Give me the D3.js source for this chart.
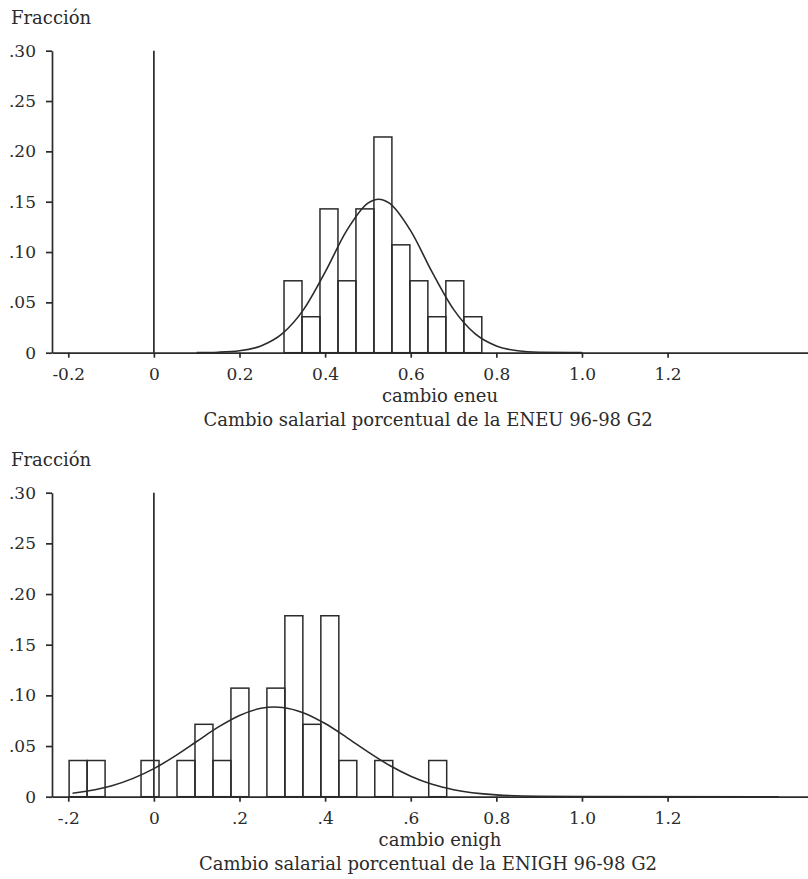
<!DOCTYPE html>
<html>
<head>
<meta charset="utf-8">
<script src="https://cdn.jsdelivr.net/npm/d3@7"></script>
<style>
  body { margin: 0; background: #fff; }
  text { font-family: "DejaVu Serif", serif; fill: #2b2b2b; }
</style>
</head>
<body>
<div id="graphic"></div>
<script>
// Shared axis ticks
const xTicks = [-0.2, 0, 0.2, 0.4, 0.6, 0.8, 1.0, 1.2];
const xLabelsEneu = ["-0.2", "0", "0.2", "0.4", "0.6", "0.8", "1.0", "1.2"];
const xLabelsEnigh = ["-.2", "0", ".2", ".4", ".6", "0.8", "1.0", "1.2"];
const yTicks = [0, 0.05, 0.10, 0.15, 0.20, 0.25, 0.30];
const yLabels = ["0", ".05", ".10", ".15", ".20", ".25", ".30"];

// ENEU histogram (28 obs)
const eneuTotal = 28;
const eneuBinWidth = 0.042;
const eneuBins = [0.304, 0.346, 0.388, 0.430, 0.472, 0.514, 0.556, 0.598, 0.640, 0.682, 0.724];
const eneuCounts = [2, 1, 4, 2, 4, 6, 3, 2, 1, 2, 1];
// normal overlay
const eneuCurveX = [0.1, 0.15, 0.2, 0.25, 0.3, 0.35, 0.4, 0.45, 0.5, 0.525, 0.55, 0.6, 0.65, 0.7, 0.75, 0.8, 0.85, 0.9, 1.0];
const eneuCurveY = [0.0001, 0.0005, 0.0019, 0.0067, 0.0189, 0.043, 0.080, 0.121, 0.1486, 0.1525, 0.1486, 0.121, 0.080, 0.043, 0.0189, 0.0067, 0.0019, 0.0005, 0.0001];

// ENIGH histogram (28 obs)
const enighTotal = 28;
const enighBinWidth = 0.042;
const enighBins = [-0.198, -0.156, -0.114, -0.072, -0.030, 0.012, 0.054, 0.096, 0.138, 0.180, 0.222,
                   0.264, 0.306, 0.348, 0.390, 0.432, 0.474, 0.516, 0.558, 0.600, 0.642];
const enighCounts = [1, 1, 0, 0, 1, 0, 1, 2, 1, 3, 0, 3, 5, 2, 5, 1, 0, 1, 0, 0, 1];
const enighCurveX = [-0.19, -0.1, 0, 0.05, 0.1, 0.15, 0.2, 0.25, 0.282, 0.3, 0.35, 0.4, 0.45, 0.5, 0.55, 0.6, 0.65, 0.7, 0.8, 0.9, 1.0, 1.46];
const enighCurveY = [0.0034, 0.0105, 0.0277, 0.0403, 0.0545, 0.0686, 0.0802, 0.0872, 0.0885, 0.0881, 0.0827, 0.0722, 0.0586, 0.0442, 0.031, 0.0202, 0.0122, 0.0069, 0.0018, 0.0003, 0.0001, 0];

const W = 808, H = 879;
const ink = "#2b2b2b";

const svg = d3.select("#graphic")
  .append("svg")
  .attr("width", W)
  .attr("height", H);

function drawPanel(p) {
  const g = svg.append("g");

  const x = d3.scaleLinear()
    .domain([-0.238, 1.528])
    .range([52, 808]);

  const y = d3.scaleLinear()
    .domain([0, 0.30])
    .range([p.y0, p.y30]);

  // "Fracción" label
  g.append("text")
    .attr("x", 11)
    .attr("y", p.y30 - 27)
    .attr("font-size", 18)
    .text("Fracción");

  // Y axis
  const yAxis = g.append("g")
    .attr("transform", `translate(${x.range()[0]},0)`)
    .call(d3.axisLeft(y)
      .tickValues(yTicks)
      .tickFormat((d, i) => yLabels[i])
      .tickSize(6)
      .tickPadding(10)
      .tickSizeOuter(0));

  // X axis
  const xAxis = g.append("g")
    .attr("transform", `translate(0,${p.y0})`)
    .call(d3.axisBottom(x)
      .tickValues(xTicks)
      .tickFormat((d, i) => p.xLabels[i])
      .tickSize(5)
      .tickPadding(10)
      .tickSizeOuter(0));

  [yAxis, xAxis].forEach(a => {
    a.selectAll("path, line").attr("stroke", ink).attr("stroke-width", 1.7);
    a.selectAll("text")
      .attr("font-size", 17)
      .attr("fill", ink)
      .style("font-family", '"DejaVu Serif", serif');
  });

  // Reference line at zero
  g.append("line")
    .attr("x1", x(0)).attr("x2", x(0))
    .attr("y1", y(0)).attr("y2", y(0.30))
    .attr("stroke", ink)
    .attr("stroke-width", 1.7);

  // Histogram bars
  const bins = p.bins.map((b, i) => ({ x0: b, x1: b + p.binWidth, frac: p.counts[i] / p.total }))
    .filter(d => d.frac > 0);

  g.selectAll(".bar")
    .data(bins)
    .join("rect")
    .attr("class", "bar")
    .attr("x", d => x(d.x0))
    .attr("y", d => y(d.frac))
    .attr("width", d => x(d.x1) - x(d.x0))
    .attr("height", d => y(0) - y(d.frac))
    .attr("fill", "none")
    .attr("stroke", ink)
    .attr("stroke-width", 1.5);

  // Normal curve
  const pts = p.curveX.map((v, i) => [v, p.curveY[i]]);
  g.append("path")
    .datum(pts)
    .attr("fill", "none")
    .attr("stroke", ink)
    .attr("stroke-width", 1.6)
    .attr("d", d3.line()
      .x(d => x(d[0]))
      .y(d => y(d[1]))
      .curve(d3.curveMonotoneX));

  // Axis title and caption
  g.append("text")
    .attr("x", 440)
    .attr("y", p.y0 + 49)
    .attr("text-anchor", "middle")
    .attr("font-size", 18)
    .text(p.xTitle);

  g.append("text")
    .attr("x", 428)
    .attr("y", p.y0 + 73)
    .attr("text-anchor", "middle")
    .attr("font-size", 18)
    .text(p.caption);
}

drawPanel({
  y0: 352.7, y30: 50.7,
  xLabels: xLabelsEneu,
  bins: eneuBins, counts: eneuCounts, total: eneuTotal, binWidth: eneuBinWidth,
  curveX: eneuCurveX, curveY: eneuCurveY,
  xTitle: "cambio eneu",
  caption: "Cambio salarial porcentual de la ENEU 96-98 G2"
});

drawPanel({
  y0: 796.7, y30: 492.7,
  xLabels: xLabelsEnigh,
  bins: enighBins, counts: enighCounts, total: enighTotal, binWidth: enighBinWidth,
  curveX: enighCurveX, curveY: enighCurveY,
  xTitle: "cambio enigh",
  caption: "Cambio salarial porcentual de la ENIGH 96-98 G2"
});
</script>
</body>
</html>
